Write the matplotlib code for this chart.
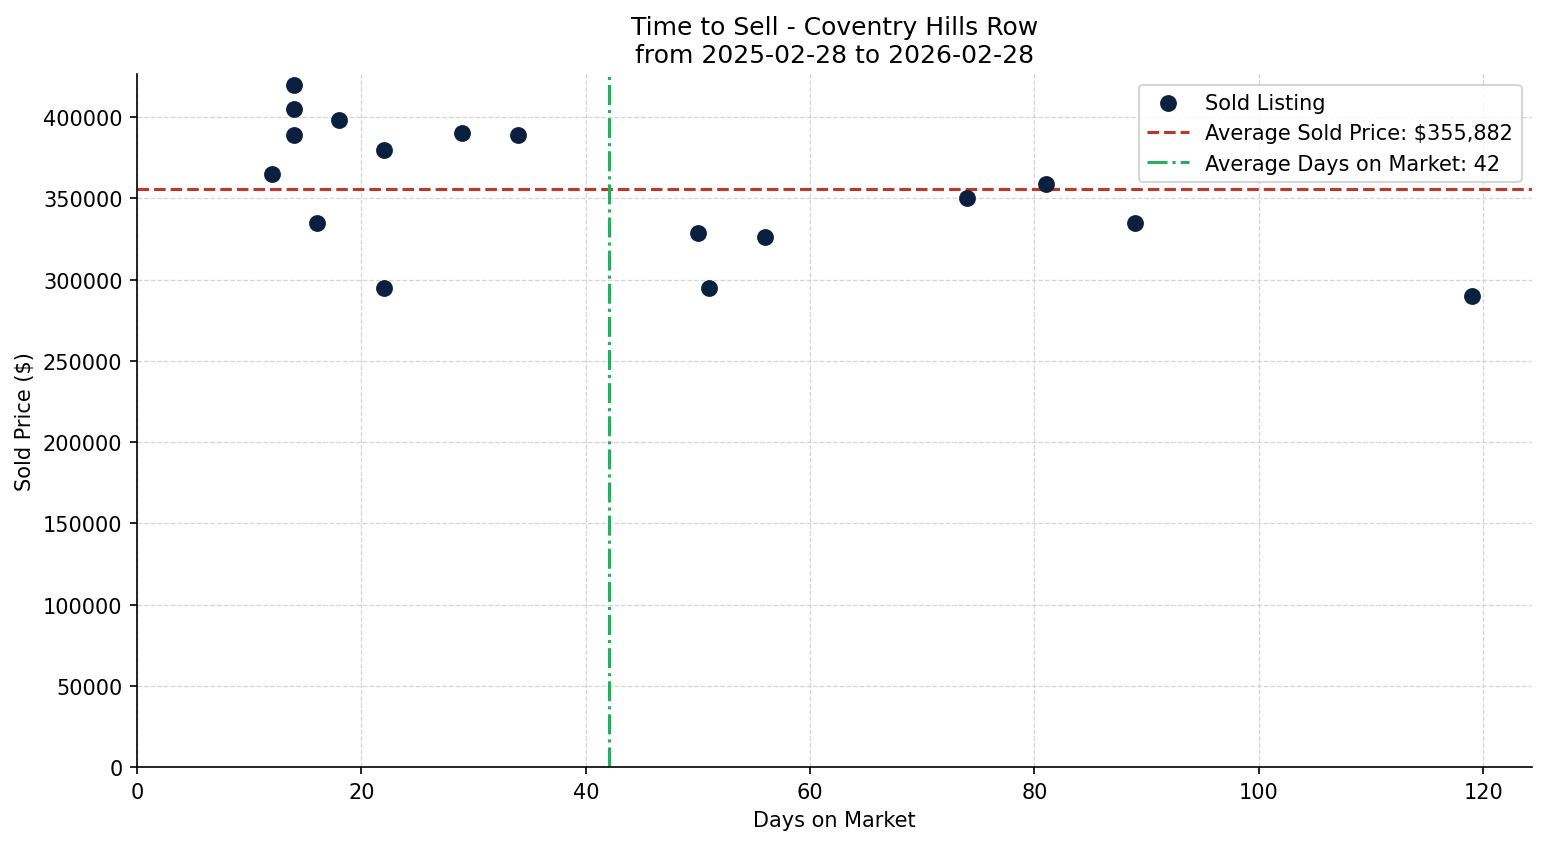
import numpy as np
import matplotlib.pyplot as plt

# Sold listings
days_on_market = [12, 14, 14, 14, 16, 18, 22, 22, 29, 34, 50, 51, 56, 74, 81, 89, 119]
sold_price = [365000, 420000, 405000, 389000, 335000, 398000, 380000, 295000,
              390000, 389000, 329000, 295000, 326000, 350000, 359000, 335000, 290000]

title = "Time to Sell - Coventry Hills Row\nfrom 2025-02-28 to 2026-02-28"

avg_price = np.mean(sold_price)
avg_days = np.mean(days_on_market)

fig = plt.figure(figsize=(10.313, 5.633), dpi=150)
ax = fig.add_axes([0.0886, 0.0911, 0.9017, 0.8200])

ax.scatter(days_on_market, sold_price, color="#0b1f3f", s=50, zorder=3, label="Sold Listing")
ax.axhline(avg_price, color="#b83a2e", linestyle="--", linewidth=1.5,
           label=f"Average Sold Price: ${avg_price:,.0f}")
ax.axvline(avg_days, color="#2eaa62", linestyle="-.", linewidth=1.5,
           label=f"Average Days on Market: {avg_days:.0f}")

ax.set_xlim(left=0)
ax.set_ylim(bottom=0)
ax.set_title(title, fontsize=12)
ax.set_xlabel("Days on Market")
ax.set_ylabel("Sold Price ($)")
ax.grid(True, linestyle="--", linewidth=0.6, color="#cccccc", alpha=0.8)
ax.set_axisbelow(True)
ax.spines["top"].set_visible(False)
ax.spines["right"].set_visible(False)
ax.legend(loc="upper right")

fig.savefig("out.png", dpi=150)
